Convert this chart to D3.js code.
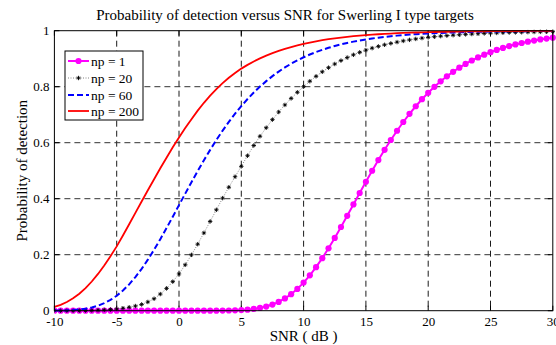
<!DOCTYPE html>
<html><head><meta charset="utf-8">
<script src="https://cdn.jsdelivr.net/npm/d3@7"></script>
<style>body{margin:0;background:#fff}svg{display:block}text{font-family:"Liberation Serif","Times New Roman","DejaVu Serif",serif;fill:#000}</style>
</head><body><svg id="c" width="556" height="345"></svg>
<script>
const snr = [-10,-9.5,-9,-8.5,-8,-7.5,-7,-6.5,-6,-5.5,-5,-4.5,-4,-3.5,-3,-2.5,-2,-1.5,-1,-0.5,
0,0.5,1,1.5,2,2.5,3,3.5,4,4.5,5,5.5,6,6.5,7,7.5,8,8.5,9,9.5,
10,10.5,11,11.5,12,12.5,13,13.5,14,14.5,15,15.5,16,16.5,17,17.5,18,18.5,19,19.5,
20,20.5,21,21.5,22,22.5,23,23.5,24,24.5,25,25.5,26,26.5,27,27.5,28,28.5,29,29.5,30];
const pdNp1 = [0,0,0,0,0,0,0,0,0,0,0,0,0,0,0,0,0,0,0,0,
0.0000,0.0000,0.0000,0.0000,0.0001,0.0001,0.0002,0.0004,0.0007,0.0013,0.0023,0.0038,0.0062,0.0098,0.0149,0.0219,0.0314,0.0437,0.0591,0.0779,
0.1003,0.1262,0.1554,0.1877,0.2228,0.2600,0.2990,0.3390,0.3796,0.4203,0.4605,0.4998,0.5380,0.5747,0.6096,0.6427,0.6739,0.7030,0.7301,0.7553,
0.7784,0.7997,0.8192,0.8370,0.8533,0.8681,0.8815,0.8936,0.9045,0.9144,0.9233,0.9314,0.9386,0.9451,0.9509,0.9561,0.9608,0.9649,0.9687,0.9720,0.9750];
const pdNp20 = [0.0000,0.0000,0.0001,0.0002,0.0004,0.0007,0.0011,0.0018,0.0028,0.0042,0.0064,0.0089,0.0123,0.0167,0.0224,0.0312,0.0427,0.0593,0.0796,0.1037,
0.1313,0.1638,0.1994,0.2376,0.2778,0.3188,0.3603,0.4020,0.4410,0.4785,0.5155,0.5535,0.5900,0.6230,0.6534,0.6824,0.7096,0.7349,0.7583,0.7800,
0.8001,0.8195,0.8371,0.8532,0.8679,0.8811,0.8932,0.9040,0.9139,0.9227,0.9307,0.9377,0.9440,0.9496,0.9547,0.9593,0.9635,0.9672,0.9706,0.9736,
0.9763,0.9785,0.9805,0.9823,0.9840,0.9855,0.9869,0.9881,0.9892,0.9903,0.9912,0.9919,0.9926,0.9933,0.9939,0.9944,0.9949,0.9954,0.9958,0.9962,0.9965];
const pdNp60 = [0.0003,0.0007,0.0013,0.0024,0.0043,0.0072,0.0116,0.0180,0.0268,0.0384,0.0534,0.0719,0.0941,0.1200,0.1495,0.1822,0.2177,0.2556,0.2951,0.3357,
0.3770,0.4182,0.4589,0.4988,0.5373,0.5744,0.6096,0.6429,0.6742,0.7035,0.7307,0.7559,0.7791,0.8004,0.8199,0.8378,0.8540,0.8687,0.8821,0.8941,
0.9051,0.9149,0.9238,0.9318,0.9389,0.9454,0.9512,0.9564,0.9610,0.9652,0.9689,0.9722,0.9752,0.9779,0.9803,0.9824,0.9843,0.9860,0.9875,0.9888,
0.9901,0.9911,0.9921,0.9929,0.9937,0.9944,0.9950,0.9955,0.9960,0.9965,0.9968,0.9972,0.9975,0.9978,0.9980,0.9982,0.9984,0.9986,0.9987,0.9989,0.9990];
const pdNp200 = [0.0136,0.0210,0.0311,0.0442,0.0607,0.0808,0.1043,0.1313,0.1615,0.1945,0.2298,0.2685,0.3086,0.3492,0.3899,0.4301,0.4695,0.5087,0.5464,0.5836,
0.6188,0.6525,0.6841,0.7144,0.7425,0.7682,0.7917,0.8128,0.8320,0.8491,0.8646,0.8780,0.8902,0.9011,0.9110,0.9199,0.9279,0.9351,0.9416,0.9475,
0.9528,0.9577,0.9621,0.9660,0.9696,0.9727,0.9756,0.9781,0.9804,0.9825,0.9843,0.9860,0.9874,0.9887,0.9899,0.9910,0.9919,0.9928,0.9935,0.9942,
0.9948,0.9953,0.9958,0.9963,0.9966,0.9970,0.9973,0.9976,0.9978,0.9981,0.9983,0.9985,0.9986,0.9988,0.9989,0.9990,0.9991,0.9992,0.9993,0.9994,0.9995];
const xTicks = [-10,-5,0,5,10,15,20,25,30];
const xTickLabels = ["-10","-5","0","5","10","15","20","25","30"];
const yTicks = [0,0.2,0.4,0.6,0.8,1];
const yTickLabels = ["0","0.2","0.4","0.6","0.8","1"];
const seriesNames = ["np = 1","np = 20","np = 60","np = 200"];
const titleText = "Probability of detection versus SNR for Swerling I type targets";
const xLabel = "SNR ( dB )";
const yLabel = "Probability of detection";

const FONT = "'Liberation Serif','Times New Roman','DejaVu Serif',serif";
const svg = d3.select("#c");
svg.append("rect").attr("width",556).attr("height",345).attr("fill","#fff");
const x = d3.scaleLinear().domain([-10,30]).range([54.4,552.8]);
const y = d3.scaleLinear().domain([0,1]).range([310.7,30.7]);
const L = x.range()[0], R = x.range()[1], T = y.range()[1], B = y.range()[0];

// grid
const g = svg.append("g");
g.selectAll(".vg").data(xTicks.slice(1,-1)).join("line")
  .attr("x1",d=>x(d)).attr("x2",d=>x(d)).attr("y1",T).attr("y2",B)
  .attr("stroke","#000").attr("stroke-width",0.9).attr("stroke-dasharray","6,4");
g.selectAll(".hg").data(yTicks.slice(1,-1)).join("line")
  .attr("x1",L).attr("x2",R).attr("y1",d=>y(d)).attr("y2",d=>y(d))
  .attr("stroke","#333").attr("stroke-width",1).attr("stroke-dasharray","6,4");

// axes
const xa = svg.append("g").attr("transform",`translate(0,${B})`)
  .call(d3.axisBottom(x).tickValues(xTicks).tickFormat((d,i)=>xTickLabels[i]).tickSize(0).tickPadding(6));
const ya = svg.append("g").attr("transform",`translate(${L},0)`)
  .call(d3.axisLeft(y).tickValues(yTicks).tickFormat((d,i)=>yTickLabels[i]).tickSize(0).tickPadding(5));
[xa,ya].forEach(a=>{a.attr("font-family",FONT).attr("font-size",13);a.select(".domain").remove();a.selectAll("text").style("font-size","13px").style("font-family",FONT);});
// inward ticks all sides
const tk = svg.append("g").attr("stroke","#000").attr("stroke-width",1);
xTicks.forEach(d=>{tk.append("line").attr("x1",x(d)).attr("x2",x(d)).attr("y1",B).attr("y2",B-5);
  tk.append("line").attr("x1",x(d)).attr("x2",x(d)).attr("y1",T).attr("y2",T+5);});
yTicks.forEach(d=>{tk.append("line").attr("x1",L).attr("x2",L+5).attr("y1",y(d)).attr("y2",y(d));
  tk.append("line").attr("x1",R).attr("x2",R-5).attr("y1",y(d)).attr("y2",y(d));});

// clip
svg.append("clipPath").attr("id","pc").append("rect").attr("x",L).attr("y",T-4).attr("width",R-L+4).attr("height",B-T+8);
const plot = svg.append("g").attr("clip-path","url(#pc)");
const line = d3.line().x((d,i)=>x(snr[i])).y(d=>y(d));

// np=1
plot.append("path").datum(pdNp1).attr("d",line).attr("fill","none").attr("stroke","#ff00ff").attr("stroke-width",2);
plot.selectAll(".m1").data(pdNp1).join("circle").attr("cx",(d,i)=>x(snr[i])).attr("cy",d=>y(d)).attr("r",3.1).attr("fill","#ff00ff");
// np=20
plot.append("path").datum(pdNp20).attr("d",line).attr("fill","none").attr("stroke","#666").attr("stroke-width",0.8).attr("stroke-dasharray","1,1.5");
const star = "M-2.2,0H2.2M0,-2.2V2.2M-1.4,-1.4L1.4,1.4M-1.4,1.4L1.4,-1.4";
plot.selectAll(".m20").data(pdNp20).join("path").attr("d",star)
  .attr("transform",(d,i)=>`translate(${x(snr[i])},${y(d)})`).attr("stroke","#000").attr("stroke-width",0.9).attr("fill","none");
// np=60
plot.append("path").datum(pdNp60).attr("d",line).attr("fill","none").attr("stroke","#0000ff").attr("stroke-width",2).attr("stroke-dasharray","6,3");
// np=200
plot.append("path").datum(pdNp200).attr("d",line).attr("fill","none").attr("stroke","#ff0000").attr("stroke-width",1.8);

// frame
svg.append("rect").attr("x",L).attr("y",T).attr("width",R-L).attr("height",B-T).attr("fill","none").attr("stroke","#000").attr("stroke-width",1);

// legend
const lg = svg.append("g");
lg.append("rect").attr("x",65).attr("y",51).attr("width",78).attr("height",69).attr("fill","#fff").attr("stroke","#000").attr("stroke-width",1);
const rows = [61,78,95,111];
const styles = [
  {c:"#ff00ff",w:2,da:null,mk:"dot"},
  {c:"#666",w:0.8,da:"1,1.5",mk:"star"},
  {c:"#0000ff",w:2,da:"6,3",mk:null},
  {c:"#ff0000",w:1.8,da:null,mk:null}];
seriesNames.forEach((n,i)=>{
  const s = styles[i], yy = rows[i];
  const l = lg.append("line").attr("x1",68).attr("x2",89).attr("y1",yy).attr("y2",yy).attr("stroke",s.c).attr("stroke-width",s.w);
  if(s.da) l.attr("stroke-dasharray",s.da);
  if(s.mk==="dot") lg.append("circle").attr("cx",78.5).attr("cy",yy).attr("r",3.1).attr("fill","#ff00ff");
  if(s.mk==="star") lg.append("path").attr("d",star).attr("transform",`translate(78.5,${yy})`).attr("stroke","#000").attr("stroke-width",0.9);
  lg.append("text").attr("x",91).attr("y",yy+4.5).style("font-size","13.5px").style("font-family",FONT).text(n);
});

// titles
svg.append("text").attr("x",285).attr("y",20).attr("text-anchor","middle").style("font-size","15px").style("font-family",FONT).text(titleText);
svg.append("text").attr("x",(L+R)/2).attr("y",341).attr("text-anchor","middle").style("font-size","15px").style("font-family",FONT).text(xLabel);
svg.append("text").attr("transform",`translate(27,${(T+B)/2}) rotate(-90)`).attr("text-anchor","middle").style("font-size","15px").style("font-family",FONT).text(yLabel);
</script></body></html>
